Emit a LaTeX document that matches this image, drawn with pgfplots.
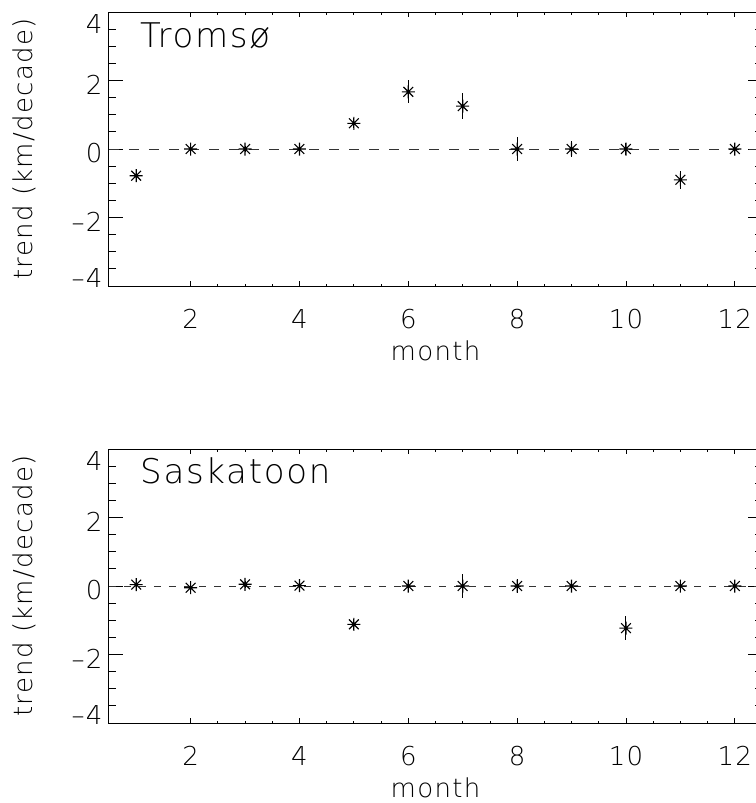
\documentclass[border=0pt]{standalone}
\usepackage{pgfplots}
\pgfplotsset{compat=1.18}
\usepackage{pgfplotstable}
\usepackage{fontspec}
\setmainfont{DejaVu Sans ExtraLight}[LetterSpace=5]
\newcommand{\lbl}{\fontsize{26}{30}\selectfont}
\newcommand{\ttl}{\fontsize{34}{40}\selectfont}

\pgfdeclareplotmark{idlast}{%
  \pgfpathmoveto{\pgfqpoint{-\pgfplotmarksize}{0pt}}\pgfpathlineto{\pgfqpoint{\pgfplotmarksize}{0pt}}%
  \pgfpathmoveto{\pgfqpoint{0pt}{-\pgfplotmarksize}}\pgfpathlineto{\pgfqpoint{0pt}{\pgfplotmarksize}}%
  \pgfpathmoveto{\pgfqpoint{-0.75\pgfplotmarksize}{-0.75\pgfplotmarksize}}\pgfpathlineto{\pgfqpoint{0.75\pgfplotmarksize}{0.75\pgfplotmarksize}}%
  \pgfpathmoveto{\pgfqpoint{-0.75\pgfplotmarksize}{0.75\pgfplotmarksize}}\pgfpathlineto{\pgfqpoint{0.75\pgfplotmarksize}{-0.75\pgfplotmarksize}}%
  \pgfusepathqstroke}

\pgfplotstableread{
m v e
1 -0.78 0.15
2 0.00 0.10
3 0.00 0.10
4 0.00 0.12
5 0.75 0.15
6 1.67 0.34
7 1.25 0.38
8 0.00 0.36
9 0.00 0.24
10 0.00 0.18
11 -0.90 0.27
12 0.00 0.18
}\tromso

\pgfplotstableread{
m v e
1 0.04 0.12
2 -0.05 0.15
3 0.05 0.10
4 0.01 0.12
5 -1.12 0.15
6 0.00 0.15
7 0.00 0.34
8 0.00 0.20
9 0.00 0.18
10 -1.23 0.34
11 0.00 0.15
12 0.00 0.15
}\saskatoon

\pgfplotsset{
  idl/.style={
    scale only axis, width=653pt, height=274pt,
    xmin=0.5, xmax=12.5, ymin=-4, ymax=4,
    xtick={2,4,6,8,10,12}, xticklabels={2,4,6,8,10,12},
    minor x tick num=3,
    ytick={-4,-2,0,2,4},
    yticklabels={\raisebox{12pt}{–4},–2,0,2,\raisebox{-7.5pt}{4}},
    minor y tick num=3,
    tick align=inside,
    major tick length=14pt, minor tick length=7pt,
    x tick style={/pgfplots/major tick length=5pt,/pgfplots/minor tick length=2.5pt},
    xticklabel style={font=\lbl, anchor=base, yshift=-42pt},
    yticklabel style={font=\lbl, anchor=base east, xshift=-3pt, yshift=-13.5pt},
    xlabel={month}, ylabel={trend (km/decade)},
    xlabel style={font=\lbl, inner sep=0pt, at={(axis description cs:0.5,-0.2701)}, anchor=base},
    ylabel style={font=\lbl, inner sep=0pt, at={(axis description cs:-0.1164,0.5)}, anchor=base},
    axis line style={line width=1pt},
    every tick/.style={black, line width=0.8pt},
  },
  pts/.style={only marks, mark=idlast, mark size=6.5pt, black,
    mark options={line width=1.1pt},
    error bars/.cd, y dir=both, y explicit, error mark=none,
    error bar style={line width=1pt, black}},
}

\begin{document}
\begin{tikzpicture}
\begin{axis}[idl, at={(109pt,-286pt)}, anchor=south west]
  \addplot[dash pattern=on 10pt off 10pt, line width=0.9pt, black!80] coordinates {(0.5,0) (12.5,0)};
  \addplot[pts] table[x=m, y=v, y error=e] {\tromso};
  \node[font=\ttl, anchor=base west, inner sep=0pt] at (rel axis cs:0.0475,0.872) {Tromsø};
\end{axis}
\begin{axis}[idl, at={(109pt,-723pt)}, anchor=south west]
  \addplot[dash pattern=on 7pt off 8pt, line width=0.9pt, black!80] coordinates {(0.5,0) (12.5,0)};
  \addplot[pts] table[x=m, y=v, y error=e] {\saskatoon};
  \node[font=\ttl, anchor=base west, inner sep=0pt] at (rel axis cs:0.0475,0.874) {Saskatoon};
\end{axis}
\pgfresetboundingbox
\path (0pt,0pt) rectangle (755pt,-803pt);
\end{tikzpicture}
\end{document}
